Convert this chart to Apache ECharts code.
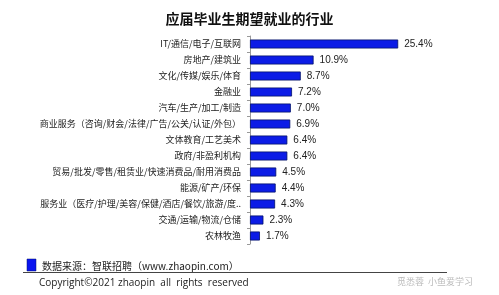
<!DOCTYPE html>
<html><head><meta charset="utf-8">
<script src="https://cdn.jsdelivr.net/npm/echarts@6/dist/echarts.min.js"></script>
<style>html,body{margin:0;padding:0;background:#fff}#c{width:499px;height:295px}</style>
</head><body><div id="c"></div>
<script>
const categories = ["IT/通信/电子/互联网","房地产/建筑业","文化/传媒/娱乐/体育","金融业","汽车/生产/加工/制造","商业服务（咨询/财会/法律/广告/公关/认证/外包）","文体教育/工艺美术","政府/非盈利机构","贸易/批发/零售/租赁业/快速消费品/耐用消费品","能源/矿产/环保","服务业（医疗/护理/美容/保健/酒店/餐饮/旅游/度..","交通/运输/物流/仓储","农林牧渔"];
const values = [25.4,10.9,8.7,7.2,7.0,6.9,6.4,6.4,4.5,4.4,4.3,2.3,1.7];
const titleText = "应届毕业生期望就业的行业";
const sourceText = "数据来源：智联招聘（www.zhaopin.com）";
const copyrightText = "Copyright©2021 zhaopin  all  rights  reserved";
const watermarkText = "觅悉蓉  小鱼爱学习";

const chart = echarts.init(document.getElementById('c'), null, {renderer:'canvas'});
chart.setOption({
  animation:false,
  backgroundColor:'#fff',
  title:{text:titleText,left:'center',top:7,textStyle:{fontSize:14,fontWeight:'bold',color:'#111',fontFamily:'Noto Sans CJK SC'}},
  grid:{left:250,right:74,top:36,bottom:51},
  xAxis:{type:'value',min:0,max:30,show:false},
  yAxis:{type:'category',data:categories,inverse:true,
    axisLine:{lineStyle:{color:'#999',width:1}},
    axisTick:{show:true,length:3,alignWithLabel:false,lineStyle:{color:'#999'}},
    axisLabel:{fontSize:9,color:'#222',margin:9,fontFamily:'Noto Sans CJK SC'}},
  series:[{type:'bar',data:values,barWidth:9,
    itemStyle:{color:'#0C1CE6',borderColor:'#00106A',borderWidth:0.8},
    label:{show:true,position:'right',distance:6,fontSize:10,color:'#222',fontFamily:'Liberation Sans',
      formatter:p=>p.value.toFixed(1)+'%'}}],
  graphic:[
    {type:'rect',shape:{x:27,y:259,width:9,height:12},style:{fill:'#0A14F0',stroke:'#00106A',lineWidth:0.5}},
    {type:'text',x:42,y:266,style:{text:sourceText,fontSize:10,fill:'#222',textVerticalAlign:'middle',fontFamily:'Noto Sans CJK SC'}},
    {type:'line',shape:{x1:23,y1:272.5,x2:447,y2:272.5},style:{stroke:'#444',lineWidth:1}},
    {type:'text',x:39,y:283,style:{text:copyrightText,fontSize:10,fill:'#222',textVerticalAlign:'middle',fontFamily:'Open Sans'}},
    {type:'text',x:397,y:282,style:{text:watermarkText,fontSize:9,fill:'#bbb',textVerticalAlign:'middle',fontFamily:'Noto Sans CJK SC'}}
  ]
});
</script></body></html>
